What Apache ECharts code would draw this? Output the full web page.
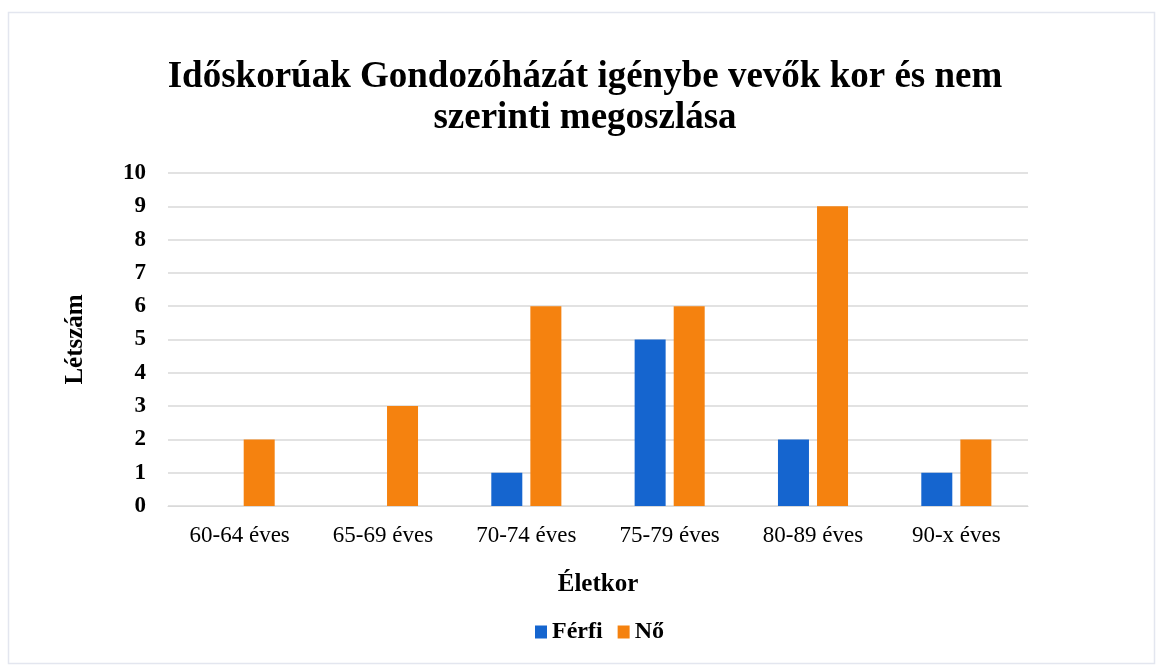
<!DOCTYPE html>
<html><head><meta charset="utf-8">
<script src="https://cdn.jsdelivr.net/npm/echarts@6/dist/echarts.min.js"></script>
<style>html,body{margin:0;padding:0;background:#fff}#c{width:1162px;height:666px}</style>
</head><body><div id="c"></div>
<script>
const categories = ['60-64 éves','65-69 éves','70-74 éves','75-79 éves','80-89 éves','90-x éves'];
const ferfi = [0, 0, 1, 5, 2, 1];
const no = [2, 3, 6, 6, 9, 2];
const seriesNames = ['Férfi', 'Nő'];
const titleText = 'Időskorúak Gondozóházát igénybe vevők kor és nem\nszerinti megoszlása';
const serif = '"Liberation Serif","DejaVu Serif",serif';
const chart = echarts.init(document.getElementById('c'));
chart.setOption({
  animation: false,
  backgroundColor: '#fff',
  graphic: [{type:'rect', shape:{x:8.5,y:12.5,width:1146,height:651}, style:{fill:'none', stroke:'#e3e6ef', lineWidth:1.5}, silent:true}],
  title: {text: titleText, left: 580, textAlign: 'center', top: 52,
    textStyle:{fontFamily: serif, fontWeight:'bold', fontSize:37, color:'#000', lineHeight:41}},
  legend: {data: seriesNames, top: 615, left: 530, icon:'rect', itemWidth:12, itemHeight:13, itemGap:15,
    textStyle:{fontFamily: serif, fontWeight:'bold', fontSize:24, color:'#000'}},
  grid: {left:168, right:134, top:173, bottom:160},
  xAxis: {type:'category', data: categories, name:'Életkor', nameLocation:'middle', nameGap:66,
    nameTextStyle:{fontFamily: serif, fontWeight:'bold', fontSize:25, color:'#000'},
    axisLine:{lineStyle:{color:'#d9d9d9'}}, axisTick:{show:false},
    axisLabel:{fontFamily: serif, fontSize:23, color:'#000', margin:18}},
  yAxis: {type:'value', min:0, max:10, interval:1, name:'Létszám', nameLocation:'middle', nameGap:80, nameRotate:90,
    nameTextStyle:{fontFamily: serif, fontWeight:'bold', fontSize:25, color:'#000'},
    axisLabel:{fontFamily: serif, fontWeight:'bold', fontSize:23, color:'#000', margin:22},
    splitLine:{lineStyle:{color:'#d9d9d9', width:1.5}}},
  series: [
    {name: seriesNames[0], type:'bar', data: ferfi, barWidth:31, barGap:'26%', itemStyle:{color:'#1565cf'}},
    {name: seriesNames[1], type:'bar', data: no, barWidth:31, itemStyle:{color:'#f5820f'}}
  ]
});
</script></body></html>
